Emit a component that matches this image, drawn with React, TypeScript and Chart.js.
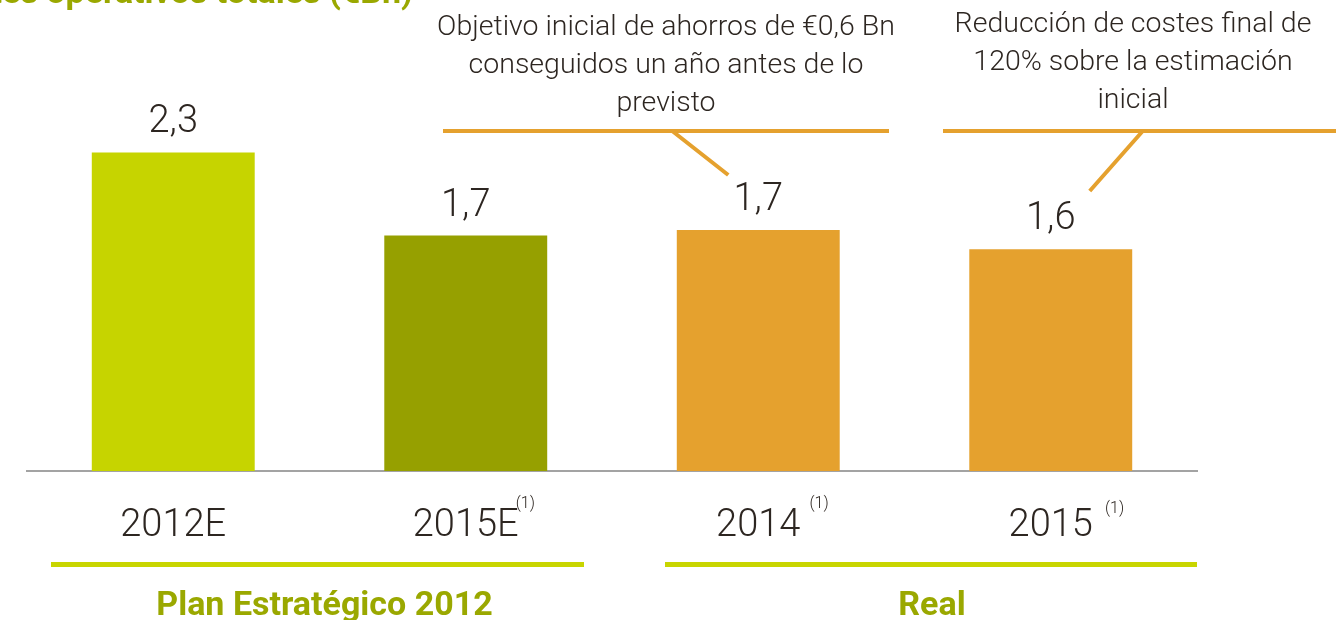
import React, { useEffect, useRef } from "react";
import { Chart, registerables } from "chart.js";

Chart.register(...registerables);

const categories = ["2012E", "2015E", "2014", "2015"];
const values = [2.3, 1.7, 1.74, 1.6];
const valueLabels = ["2,3", "1,7", "1,7", "1,6"];
const footnotes = ["", "(1)", "(1)", "(1)"];
const barColors = ["#c6d400", "#96a000", "#e5a12e", "#e5a12e"];
const groupLabels = ["Plan Estratégico 2012", "Real"];
const groupStart = [0, 2];
const groupEnd = [1, 3];
const callout1 = ["Objetivo inicial de ahorros de €0,6 Bn", "conseguidos un año antes de lo", "previsto"];
const callout2 = ["Reducción de costes final de", "120% sobre la estimación", "inicial"];
const titleText = "Costes operativos totales (€Bn)";

const FONT = 'Roboto, "Open Sans", sans-serif';
const TEXT = "#2d2621";
const OLIVE = "#9aa800";
const LIME = "#c8d500";
const ORANGE = "#e5a12e";

const decorPlugin = {
  id: "decor",
  afterDatasetsDraw(chart: any) {
    const ctx = chart.ctx;
    const meta = chart.getDatasetMeta(0);
    const xs = chart.scales.x;
    ctx.save();

    // title (cut at top)
    ctx.font = `bold 34px ${FONT}`;
    ctx.fillStyle = OLIVE;
    ctx.textAlign = "right";
    ctx.textBaseline = "alphabetic";
    ctx.fillText(titleText, 413, 3);

    // value labels
    ctx.font = `300 38px ${FONT}`;
    ctx.fillStyle = TEXT;
    ctx.textAlign = "center";
    meta.data.forEach((bar: any, i: number) => {
      ctx.fillText(valueLabels[i], bar.x, bar.y - 20);
    });

    // footnote superscripts
    const gaps = [0, -3, 9, 12];
    const dy = [0, 0, 0, 5];
    meta.data.forEach((bar: any, i: number) => {
      if (!footnotes[i]) return;
      ctx.font = `300 38px ${FONT}`;
      const w = ctx.measureText(categories[i]).width;
      ctx.font = `300 16px ${FONT}`;
      ctx.textAlign = "left";
      ctx.textBaseline = "middle";
      ctx.fillStyle = TEXT;
      ctx.fillText(footnotes[i], bar.x + w / 2 + gaps[i], 504 + dy[i]);
    });

    // group lines and labels
    const half = (xs.getPixelForValue(1) - xs.getPixelForValue(0)) / 2;
    const insetL = [24, 53];
    const insetR = [28, 0];
    groupLabels.forEach((lab, g) => {
      const x0 = xs.getPixelForValue(groupStart[g]) - half + insetL[g];
      const x1 = xs.getPixelForValue(groupEnd[g]) + half - insetR[g];
      ctx.fillStyle = LIME;
      ctx.fillRect(x0, 562, x1 - x0, 5);
      ctx.font = `bold 34px ${FONT}`;
      ctx.fillStyle = OLIVE;
      ctx.textAlign = "center";
      ctx.textBaseline = "alphabetic";
      ctx.fillText(lab, (x0 + x1) / 2 + (g === 0 ? 7 : 1), 615);
    });

    // callouts
    ctx.strokeStyle = ORANGE;
    ctx.lineWidth = 4;
    ctx.lineCap = "butt";
    const b3 = meta.data[2];
    const b4 = meta.data[3];
    ctx.beginPath();
    ctx.moveTo(443, 131);
    ctx.lineTo(889, 131);
    ctx.moveTo(b3.x - 86, 131);
    ctx.lineTo(b3.x - 30, 175);
    ctx.moveTo(943, 131);
    ctx.lineTo(1336, 131);
    ctx.moveTo(b4.x + 92, 131);
    ctx.lineTo(b4.x + 39, 191);
    ctx.stroke();

    ctx.font = `300 28.5px ${FONT}`;
    ctx.fillStyle = TEXT;
    ctx.textAlign = "center";
    ctx.textBaseline = "middle";
    callout1.forEach((t, i) => ctx.fillText(t, 666, 28 + i * 38));
    callout2.forEach((t, i) => ctx.fillText(t, 1133, 25 + i * 38));

    ctx.restore();
  },
};

export default function App() {
  const ref = useRef<HTMLCanvasElement | null>(null);
  useEffect(() => {
    if (!ref.current) return;
    const chart = new Chart(ref.current, {
      type: "bar",
      data: {
        labels: categories,
        datasets: [
          {
            data: values,
            backgroundColor: barColors,
            borderWidth: 0,
            barPercentage: 0.557,
            categoryPercentage: 1,
          },
        ],
      },
      options: {
        responsive: false,
        animation: false,
        layout: { padding: { left: 27, right: 139, top: 0, bottom: 0 } },
        plugins: { legend: { display: false }, tooltip: { enabled: false }, title: { display: false } },
        scales: {
          x: {
            grid: { display: false, drawTicks: false },
            border: { display: true, color: "#a3a3a3", width: 2 },
            ticks: { color: TEXT, font: { family: FONT, size: 38, weight: "300" as any }, padding: 33, maxRotation: 0 },
            afterFit: (s: any) => {
              s.height = 149;
            },
          },
          y: { display: false, min: 0, max: 3.4 },
        },
      },
      plugins: [decorPlugin],
    });
    return () => chart.destroy();
  }, []);
  return (
    <div style={{ position: "fixed", left: 0, top: 0, width: 1336, height: 620, background: "#fff" }}>
      <canvas ref={ref} width={1336} height={620} style={{ display: "block" }} />
    </div>
  );
}
